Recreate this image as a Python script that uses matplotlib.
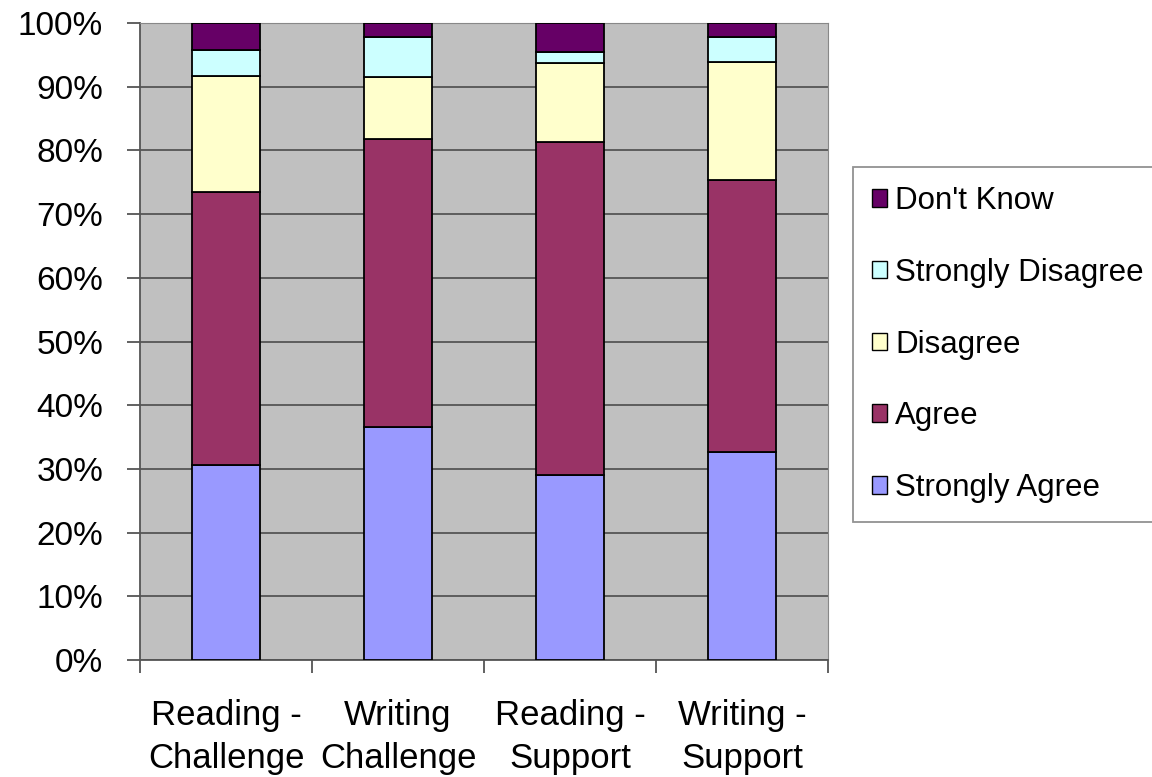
import matplotlib.pyplot as plt
import numpy as np
from matplotlib.patches import Patch

categories = ["Reading -\nChallenge", "Writing\nChallenge", "Reading -\nSupport", "Writing -\nSupport"]
strongly_agree = [30.6, 36.6, 29.0, 32.6]
agree = [42.8, 45.2, 52.3, 42.8]
disagree = [18.3, 9.8, 12.4, 18.5]
strongly_disagree = [4.1, 6.2, 1.8, 3.9]
dont_know = [4.2, 2.2, 4.5, 2.2]

series = [
    ("Strongly Agree", strongly_agree, "#9999FF"),
    ("Agree", agree, "#993366"),
    ("Disagree", disagree, "#FFFFCC"),
    ("Strongly Disagree", strongly_disagree, "#CCFFFF"),
    ("Don't Know", dont_know, "#660066"),
]

plt.rcParams["font.family"] = ["Liberation Sans", "DejaVu Sans"]

fig = plt.figure(figsize=(11.52, 7.77), dpi=100)
ax = fig.add_axes([140 / 1152, 1 - 660 / 777, 688 / 1152, 637 / 777])
ax.set_facecolor("#C0C0C0")

x = np.arange(len(categories))
bottom = np.zeros(len(categories))
for name, vals, color in series:
    ax.bar(x, vals, width=0.4, bottom=bottom, color=color, edgecolor="black",
           linewidth=1.3, zorder=3)
    bottom += np.array(vals)

ax.set_xlim(-0.5, len(categories) - 0.5)
ax.set_ylim(0, 100)
ax.set_yticks(range(0, 101, 10))
ax.set_yticklabels([f"{v}%" for v in range(0, 101, 10)], fontsize=24)
ax.yaxis.grid(True, color="#555555", linewidth=1.3, zorder=1)
ax.set_axisbelow(True)

# category labels centred, tick marks between categories
ax.set_xticks(x)
ax.set_xticklabels(categories, fontsize=25, linespacing=1.38)
ax.tick_params(axis="x", which="major", length=0, pad=28)
ax.set_xticks(np.arange(-0.5, len(categories), 1.0), minor=True)
ax.tick_params(axis="x", which="minor", length=9, color="#555555", width=1.3)
ax.tick_params(axis="y", length=9.5, color="#555555", width=1.3, pad=17)

for side in ["top", "right"]:
    ax.spines[side].set_color("#888888")
for side in ["left", "bottom"]:
    ax.spines[side].set_color("#555555")
    ax.spines[side].set_linewidth(1.3)

handles = [Patch(facecolor=c, edgecolor="black", label=n) for n, _, c in reversed(series)]
leg = fig.legend(handles=handles, loc="upper left", bbox_to_anchor=(853 / 1152, 1 - 167 / 777),
                 fontsize=22.5, frameon=True, fancybox=False, edgecolor="#777777",
                 labelspacing=1.34, handlelength=0.5, handleheight=0.5,
                 handletextpad=0.25, borderpad=0.6, borderaxespad=0)
leg.get_frame().set_linewidth(1.3)

fig.savefig("out.png", dpi=100)
